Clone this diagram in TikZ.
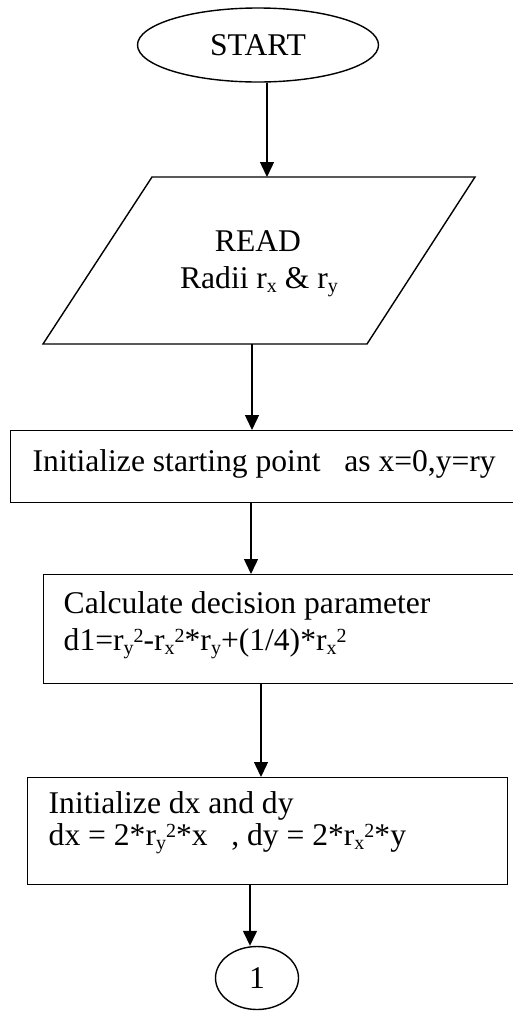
\documentclass[tikz,border=0pt]{standalone}
\usepackage{fontspec}
\setmainfont{Liberation Serif}
\usetikzlibrary{shapes.geometric,arrows.meta}
\newcommand\myup[1]{\raisebox{8pt}{\fontsize{20}{20}\selectfont #1}}
\newcommand\mydn[1]{\raisebox{-4pt}{\fontsize{20}{20}\selectfont #1}}
\begin{document}
\begin{tikzpicture}[x=1pt,y=-1pt,line width=1.4pt,
  arr/.style={-{Triangle[length=15pt,width=14pt]}},
  fnt/.style={font=\fontsize{31.6}{36}\selectfont},
  txt/.style={fnt,anchor=base west,inner sep=0pt},
  box/.style={draw,anchor=north west,inner sep=0pt},
  oval/.style={draw,ellipse,inner sep=0pt,fnt}]
\useasboundingbox (0,0) rectangle (513,1013);
% start
\node[oval,minimum width=241,minimum height=74] (start) at (258,45) {START};
% read parallelogram
\draw (152,177) coordinate (ptl) -- (475,177) -- (367,344) -- (43,344) coordinate (pbl) -- cycle;
\coordinate (pin) at (267,177);
\coordinate (pout) at (252,344);
\node[fnt,inner sep=0pt,anchor=base] (read) at (258,251) {READ};
\node[fnt,inner sep=0pt,anchor=base] (radii) at (259,288) {Radii r\mydn{x} \& r\mydn{y}};
% boxes
\node[box,minimum width=530,minimum height=72] (b2) at (10,430) {};
\node[txt] (t2) at (32,471) {Initialize starting point\hspace{0.75em}as x=0,y=ry};
\node[box,minimum width=497,minimum height=109] (b3) at (43,574) {};
\node[txt] (t3a) at (63,613) {Calculate decision parameter};
\node[txt] (t3b) at (63,650) {d1=r\mydn{y}\myup{2}-r\mydn{x}\myup{2}*r\mydn{y}+(1/4)*r\mydn{x}\myup{2}};
\node[box,minimum width=480,minimum height=107] (b4) at (27,777) {};
\node[txt] (t4a) at (48,813) {Initialize dx and dy};
\node[txt] (t4b) at (48,845) {dx = 2*r\mydn{y}\myup{2}*x\hspace{0.75em}, dy = 2*r\mydn{x}\myup{2}*y};
% connector circle
\node[oval,minimum width=83,minimum height=63] (c1) at (257,978) {1};
% arrows
\draw[arr] (start.south -| pin) -- (pin);
\draw[arr] (pout) -- (pout |- b2.north);
\draw[arr] (b2.south -| 251,0) -- (b3.north -| 251,0);
\draw[arr] (b3.south -| 261,0) -- (b4.north -| 261,0);
\draw[arr] (b4.south -| 250,0) -- (c1.north -| 250,0);
\end{tikzpicture}
\end{document}
